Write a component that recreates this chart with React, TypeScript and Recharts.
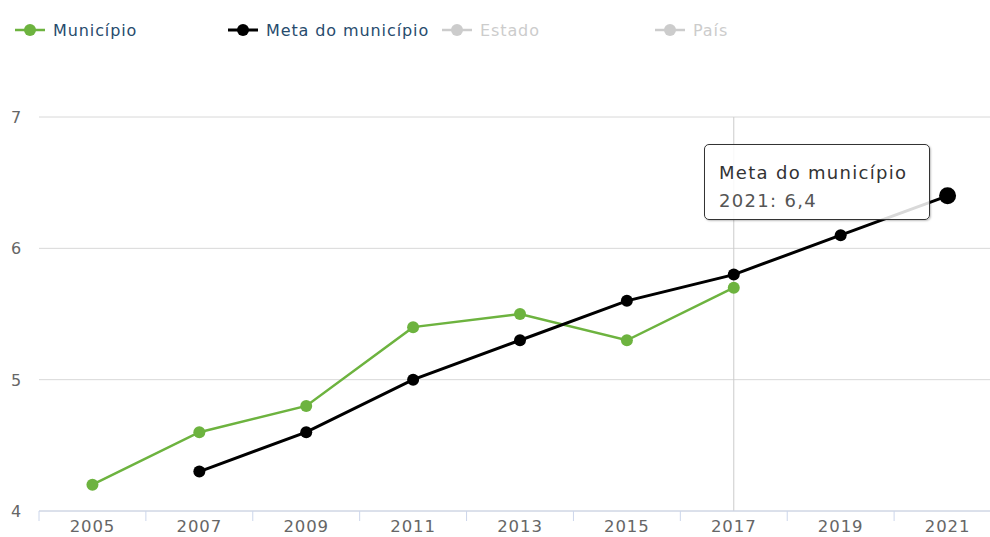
import { LineChart, Line, XAxis, YAxis, CartesianGrid, ReferenceLine } from "recharts";

const years = ["2005", "2007", "2009", "2011", "2013", "2015", "2017", "2019", "2021"];
const municipio = [4.2, 4.6, 4.8, 5.4, 5.5, 5.3, 5.7, null, null];
const meta = [null, 4.3, 4.6, 5.0, 5.3, 5.6, 5.8, 6.1, 6.4];
const yTicks = [4, 5, 6, 7];
const hoveredIndex = 8;
const crosshairIndex = 6;

const GREEN = "#6db33f";
const FONT = "'DejaVu Sans', Verdana, sans-serif";

const data = years.map((year, i) => ({
    i,
    year,
    municipio: municipio[i],
    meta: meta[i],
}));

// label ticks on the years, tick marks on the band edges between them
const xTicks = years.map((_, i) => i).concat(years.map((_, i) => i - 0.5), [years.length - 0.5]);

const legendItems = [
    { label: "Município", color: GREEN, text: "#274b6d", left: 15 },
    { label: "Meta do município", color: "#000", text: "#274b6d", left: 228 },
    { label: "Estado", color: "#cccccc", text: "#cccccc", left: 442 },
    { label: "País", color: "#cccccc", text: "#cccccc", left: 655 },
];

function YTick({ y, payload }: any) {
    return (
        <text x={11} y={y} dy={6} fill="#666" fontSize={16} fontFamily={FONT} letterSpacing={0.5}>
            {payload.value}
        </text>
    );
}

function XTick({ x, y, payload }: any) {
    const v = payload.value;
    if (!Number.isInteger(v)) {
        return <line x1={x} y1={y} x2={x} y2={y + 10} stroke="#ccd6eb" strokeWidth={1} />;
    }
    return (
        <text x={x} y={y} dy={21} textAnchor="middle" fill="#666" fontSize={16.5} fontFamily={FONT} letterSpacing={0.9}>
            {years[v]}
        </text>
    );
}

function MetaDot({ cx, cy, index }: any) {
    if (cx == null || cy == null) return null;
    const r = index === hoveredIndex ? 8.5 : 6;
    return <circle key={`m-${index}`} cx={cx} cy={cy} r={r} fill="#000" />;
}

export default function App() {
    return (
        <div style={{ position: "absolute", left: 0, top: 0, width: 990, height: 537, overflow: "hidden", background: "#fff", fontFamily: FONT }}>
            {legendItems.map((item) => (
                <div
                    key={item.label}
                    style={{ position: "absolute", top: 20, left: item.left, display: "flex", alignItems: "center", fontSize: 16, letterSpacing: 0.9, color: item.text }}
                >
                    <svg width={30} height={20} style={{ marginRight: 8 }}>
                        <line x1={0} y1={10} x2={30} y2={10} stroke={item.color} strokeWidth={item.label === "Meta do município" ? 3 : 2.5} />
                        <circle cx={15} cy={10} r={6} fill={item.color} />
                    </svg>
                    <span>{item.label}</span>
                </div>
            ))}
            <LineChart width={1007} height={537} data={data} margin={{ top: 117, right: 6, bottom: 0, left: 0 }}>
                <CartesianGrid horizontal vertical={false} stroke="#d8d8d8" />
                <XAxis
                    dataKey="i"
                    type="number"
                    domain={[-0.5, years.length - 0.5]}
                    ticks={xTicks}
                    tick={<XTick />}
                    tickLine={false}
                    tickSize={0}
                    tickMargin={0}
                    axisLine={{ stroke: "#ccd6eb" }}
                    height={26}
                    interval={0}
                />
                <YAxis domain={[4, 7]} ticks={yTicks} tick={<YTick />} tickLine={false} axisLine={false} width={39} />
                <ReferenceLine x={crosshairIndex} stroke="#cccccc" strokeWidth={1} />
                <Line
                    dataKey="municipio"
                    stroke={GREEN}
                    strokeWidth={2.5}
                    dot={{ r: 6, fill: GREEN, stroke: "none" }}
                    activeDot={false}
                    isAnimationActive={false}
                    connectNulls={false}
                />
                <Line
                    dataKey="meta"
                    stroke="#000"
                    strokeWidth={3}
                    dot={<MetaDot />}
                    activeDot={false}
                    isAnimationActive={false}
                    connectNulls={false}
                />
            </LineChart>
            <div
                style={{
                    position: "absolute",
                    left: 704,
                    top: 144,
                    width: 226,
                    height: 76,
                    boxSizing: "border-box",
                    background: "rgba(255,255,255,0.85)",
                    border: "1px solid #333",
                    borderRadius: 5,
                    boxShadow: "1px 1px 2px rgba(0,0,0,0.25)",
                    padding: "14px 14px 0",
                    fontSize: 18,
                    letterSpacing: 1.3,
                    lineHeight: "28px",
                    whiteSpace: "nowrap",
                }}
            >
                <div style={{ color: "#333" }}>Meta do município</div>
                <div style={{ color: "#555" }}>2021: 6,4</div>
            </div>
        </div>
    );
}
